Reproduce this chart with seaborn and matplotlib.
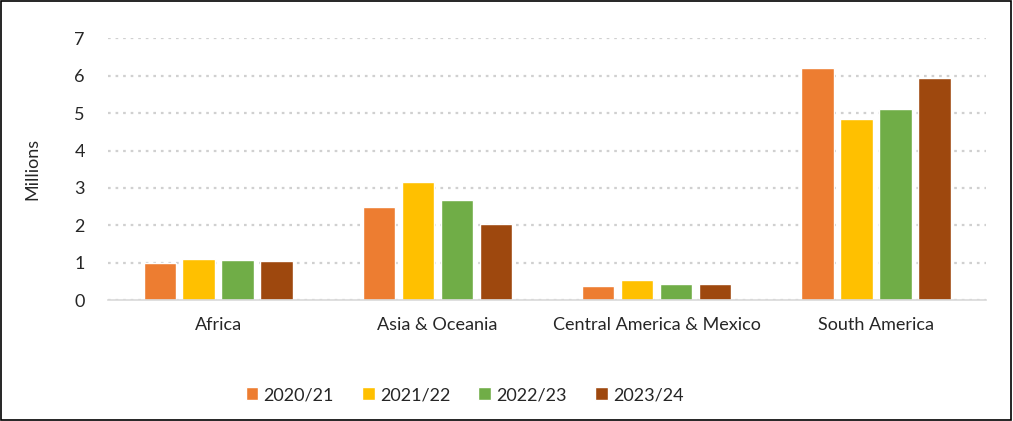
import pandas as pd
import seaborn as sns
import matplotlib.pyplot as plt
from matplotlib.patches import Rectangle

regions = ['Africa', 'Asia & Oceania', 'Central America & Mexico', 'South America']
seasons = ['2020/21', '2021/22', '2022/23', '2023/24']
v2020 = [1.00, 2.48, 0.37, 6.21]
v2021 = [1.11, 3.16, 0.55, 4.84]
v2022 = [1.07, 2.69, 0.44, 5.10]
v2023 = [1.05, 2.03, 0.44, 5.94]
colours = ['#ED7D31', '#FFC000', '#70AD47', '#9E480E']

df = pd.DataFrame({'region': regions * 4,
                   'season': [s for s in seasons for _ in regions],
                   'value': v2020 + v2021 + v2022 + v2023})

sns.set_style('white')
plt.rcParams['font.family'] = ['Lato', 'DejaVu Sans']

fig = plt.figure(figsize=(10.13, 4.21), dpi=100)
ax = fig.add_axes([0.107, 0.287, 0.866, 0.622])
sns.barplot(data=df, x='region', y='value', hue='season', palette=colours,
            width=0.71, gap=0.17, ax=ax, saturation=1)

ax.set_ylim(0, 7)
ax.set_yticks(range(8))
ax.set_xlim(-0.5, 3.5)
ax.yaxis.grid(True, linestyle=(0, (1.2, 2.2)), color='#d0d0d0', linewidth=1.6)
ax.set_axisbelow(True)
for s in ['left', 'right', 'top']:
    ax.spines[s].set_visible(False)
ax.spines['bottom'].set_color('#d9d9d9')
ax.spines['bottom'].set_linewidth(1.2)
ax.tick_params(axis='both', length=0, labelsize=13)
ax.tick_params(axis='x', pad=12)
ax.tick_params(axis='y', pad=17)
ax.set_xlabel('')
ax.set_ylabel('Millions', fontsize=13)
ax.yaxis.set_label_coords(-0.077, 0.5)

ax.legend(loc='upper center', bbox_to_anchor=(0.406, -0.27), ncol=4, frameon=False,
          fontsize=13, handlelength=0.7, handleheight=0.7, handletextpad=0.3,
          columnspacing=1.55)

fig.patches.append(Rectangle((0.001, 0.002), 0.997, 0.995, transform=fig.transFigure,
                             fill=False, edgecolor='black', linewidth=1.2))
fig.savefig('out.png', dpi=100)
